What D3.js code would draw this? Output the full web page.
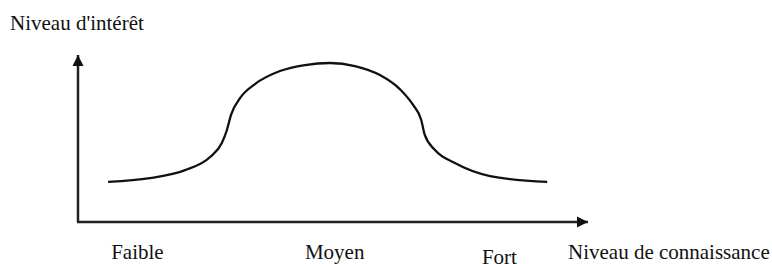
<!DOCTYPE html>
<html>
<head>
<meta charset="utf-8">
<script src="https://cdn.jsdelivr.net/npm/d3@7"></script>
<style>
  html, body { margin: 0; padding: 0; background: #fff; }
  text { font-family: "Liberation Serif", "Times New Roman", serif; fill: #111; }
</style>
</head>
<body>
<div id="chart"></div>
<script>
// Data: knowledge level (x, 0-100) vs interest level (y, 0-100)
const knowledge = [5.9, 14.1, 21.0, 25.9, 28.2, 29.2, 30.0, 31.8, 34.7, 39.6, 44.5, 49.4,
    54.3, 59.2, 63.1, 65.7, 67.3, 68.0, 70.0, 73.9, 80.8, 92.0];
const interest = [24.0, 26.3, 31.1, 38.9, 47.3, 55.1, 64.1, 74.3, 82.6, 90.4, 94.0, 95.2,
    93.4, 88.0, 79.6, 70.1, 61.1, 52.1, 43.1, 35.3, 27.5, 24.0];

const levels = ["Faible", "Moyen", "Fort"];
const levelPos = [6.5, 44.5, 79.2];

const yTitle = "Niveau d'intérêt";
const xTitle = "Niveau de connaissance";

const width = 772, height = 264;

const svg = d3.select("#chart")
    .append("svg")
    .attr("width", width)
    .attr("height", height);

const x = d3.scaleLinear().domain([0, 100]).range([78, 588]);
const y = d3.scaleLinear().domain([0, 100]).range([222, 55]);

// arrow head
svg.append("defs").append("marker")
    .attr("id", "arrow")
    .attr("viewBox", "0 0 10 10")
    .attr("refX", 10)
    .attr("refY", 5)
    .attr("markerWidth", 4.5)
    .attr("markerHeight", 5)
    .attr("markerUnits", "strokeWidth")
    .attr("orient", "auto")
    .append("path")
    .attr("d", "M0,0L10,5L0,10Z")
    .attr("fill", "#111");

// axes
svg.append("line")
    .attr("x1", x(0)).attr("y1", y(0))
    .attr("x2", x(0)).attr("y2", y(100))
    .attr("stroke", "#222").attr("stroke-width", 2.5)
    .attr("marker-end", "url(#arrow)");

svg.append("line")
    .attr("x1", x(0) - 1).attr("y1", y(0))
    .attr("x2", x(100)).attr("y2", y(0))
    .attr("stroke", "#222").attr("stroke-width", 2.5)
    .attr("marker-end", "url(#arrow)");

// curve
const line = d3.line()
    .x(d => x(d[0]))
    .y(d => y(d[1]))
    .curve(d3.curveMonotoneX);

svg.append("path")
    .datum(d3.zip(knowledge, interest))
    .attr("d", line)
    .attr("fill", "none")
    .attr("stroke", "#111")
    .attr("stroke-width", 2.3);

// labels
svg.append("text")
    .attr("x", 10).attr("y", 30)
    .attr("font-size", 21)
    .text(yTitle);

svg.selectAll(".level")
    .data(levels)
    .join("text")
    .attr("class", "level")
    .attr("x", (d, i) => x(levelPos[i]))
    .attr("y", (d, i) => i === 2 ? 264 : 259)
    .attr("font-size", 21)
    .text(d => d);

svg.append("text")
    .attr("x", 568).attr("y", 259)
    .attr("font-size", 21)
    .text(xTitle);
</script>
</body>
</html>
